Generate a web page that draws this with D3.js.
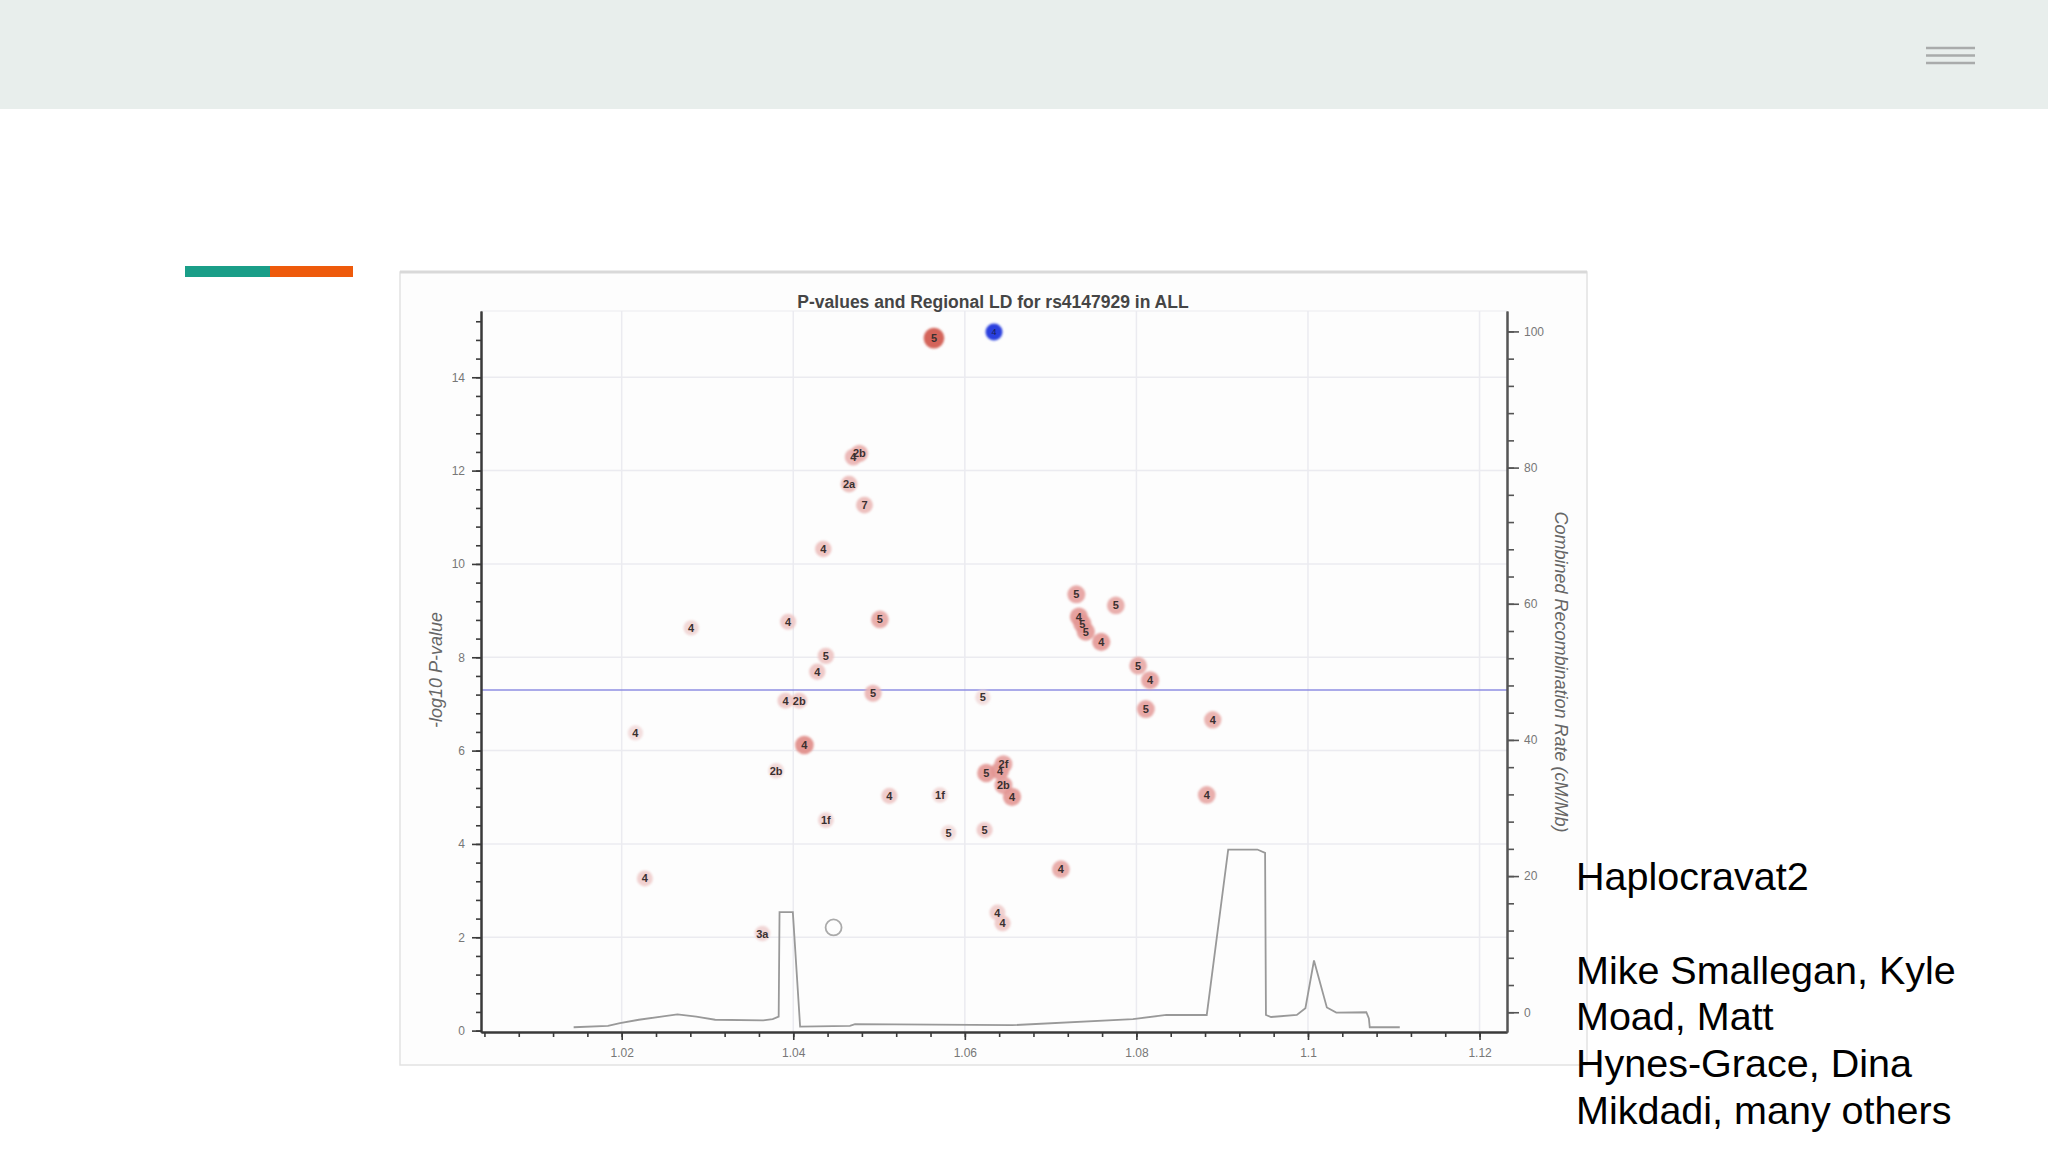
<!DOCTYPE html>
<html><head><meta charset="utf-8">
<script src="https://cdn.jsdelivr.net/npm/d3@7"></script>
<style>html,body{margin:0;padding:0;background:#fff;overflow:hidden}</style>
</head><body>
<svg id="c" width="2048" height="1152"></svg>
<script>
// ---------------- data ----------------
const chartTitle = "P-values and Regional LD for rs4147929 in ALL";
const yAxisTitle = "-log10 P-value";
const rAxisTitle = "Combined Recombination Rate (cM/Mb)";

// SNPs: position (Mb), -log10 P, LD r^2 with index SNP, label
const snpPos   = [1.0564,1.0470,1.0477,1.0465,1.0483,1.0435,1.0281,1.0394,1.0501,1.0438,1.0428,1.0493,1.0391,1.0407,1.0621,1.0216,1.0413,1.0380,1.0512,1.0571,1.0438,1.0581,1.0623,1.0625,1.0641,1.0645,1.0645,1.0655,1.0730,1.0776,1.0733,1.0737,1.0741,1.0759,1.0802,1.0816,1.0811,1.0889,1.0882,1.0712,1.0227,1.0364,1.0638,1.0644];
const snpLogP  = [14.84,12.29,12.37,11.71,11.26,10.32,8.63,8.76,8.81,8.03,7.69,7.23,7.07,7.07,7.14,6.38,6.12,5.57,5.03,5.05,4.51,4.24,4.30,5.52,5.57,5.71,5.26,5.01,9.35,9.11,8.87,8.72,8.55,8.33,7.82,7.51,6.89,6.66,5.05,3.46,3.26,2.08,2.53,2.30];
const snpLD    = [0.95,0.35,0.40,0.30,0.30,0.25,0.08,0.18,0.45,0.22,0.22,0.35,0.18,0.18,0.04,0.04,0.62,0.08,0.20,0.08,0.10,0.05,0.18,0.55,0.55,0.50,0.50,0.55,0.50,0.45,0.55,0.55,0.55,0.55,0.45,0.50,0.50,0.40,0.45,0.45,0.15,0.10,0.15,0.20];
const snpLabel = ["5","4","2b","2a","7","4","4","4","5","5","4","5","4","2b","5","4","4","2b","4","1f","1f","5","5","5","4","2f","2b","4","5","5","4","5","5","4","5","4","5","4","4","4","4","3a","4","4"];

// index SNP
const indexPos = [1.0634];
const indexLogP = [14.97];
const indexLabel = ["4"];

// SNP without LD information
const noLDPos = [1.0447];
const noLDLogP = [2.21];

// recombination rate track
const recombPos  = [1.0144,1.0184,1.0198,1.0220,1.0265,1.0287,1.0309,1.0365,1.0376,1.0383,1.0384,1.03995,1.0408,1.0466,1.0472,1.0655,1.0796,1.0835,1.0882,1.0907,1.0941,1.0950,1.0951,1.0957,1.0987,1.0997,1.1007,1.1022,1.1033,1.1068,1.1071,1.1072,1.1107];
const recombRate = [-2.2,-2.0,-1.6,-1.1,-0.3,-0.65,-1.1,-1.2,-1.0,-0.65,14.7,14.7,-2.1,-2.0,-1.75,-1.9,-1.0,-0.4,-0.4,23.9,23.9,23.4,-0.4,-0.7,-0.4,0.6,7.6,0.7,-0.05,0.0,-0.9,-2.2,-2.2];

const xTicks = [1.02,1.04,1.06,1.08,1.1,1.12];
const yTicks = [0,2,4,6,8,10,12,14];
const rTicks = [0,20,40,60,80,100];
const sigThreshold = 7.3;

const sideTitle = "Haplocravat2";
const sideLines = ["Mike Smallegan, Kyle","Moad, Matt","Hynes-Grace, Dina","Mikdadi, many others"];

// ---------------- drawing ----------------
const svg = d3.select("#c");
const FONT = "'Liberation Sans', Arial, Helvetica, sans-serif";

// header band
svg.append("rect").attr("x",0).attr("y",0).attr("width",2048).attr("height",109).attr("fill","#e8eeec");
[48,55.5,63].forEach(yy=>{
  svg.append("line").attr("x1",1926).attr("x2",1975).attr("y1",yy).attr("y2",yy)
    .attr("stroke","#a9abab").attr("stroke-width",2.4);
});

// accent bar
svg.append("rect").attr("x",185).attr("y",266).attr("width",85).attr("height",11).attr("fill","#1a9e88");
svg.append("rect").attr("x",270).attr("y",266).attr("width",83).attr("height",11).attr("fill","#ee5a0b");

// screenshot frame
svg.append("rect").attr("x",400).attr("y",272).attr("width",1187).attr("height",793)
  .attr("fill","#fdfdfd").attr("stroke","#e2e2e2").attr("stroke-width",1.5);
svg.append("line").attr("x1",400).attr("x2",1587).attr("y1",272).attr("y2",272)
  .attr("stroke","#d9d9d9").attr("stroke-width",3);

// scales
const x = d3.scaleLinear().domain([1.0036,1.1232]).range([481,1507]);
const y = d3.scaleLinear().domain([-0.03,15.42]).range([1032,311]);
const yR = d3.scaleLinear().domain([-2.9,103]).range([1032,311]);
const ld = d3.scaleLinear().domain([0,0.5,1]).range(["#f3dfdf","#e6a09d","#cc4a3e"]);

const plot = svg.append("g");

// grid
plot.append("g").selectAll("line").data(yTicks.filter(d=>d>0)).join("line")
  .attr("x1",481).attr("x2",1507).attr("y1",d=>y(d)).attr("y2",d=>y(d))
  .attr("stroke","#ebebf0").attr("stroke-width",1.5);
plot.append("line").attr("x1",481).attr("x2",1507).attr("y1",311).attr("y2",311)
  .attr("stroke","#f0f0f3").attr("stroke-width",1.5);
plot.append("g").selectAll("line").data(xTicks).join("line")
  .attr("x1",d=>x(d)).attr("x2",d=>x(d)).attr("y1",311).attr("y2",1032)
  .attr("stroke","#ebebf0").attr("stroke-width",1.5);

// significance line
plot.append("line").attr("x1",481).attr("x2",1507).attr("y1",y(sigThreshold)).attr("y2",y(sigThreshold))
  .attr("stroke","#8e8ee2").attr("stroke-width",1.6);

// recombination line
const recomb = recombPos.map((p,i)=>[p,recombRate[i]]);
plot.append("path").datum(recomb)
  .attr("d",d3.line().x(d=>x(d[0])).y(d=>yR(d[1])))
  .attr("fill","none").attr("stroke","#999").attr("stroke-width",1.8);

// axes
function styleAxis(g, col){
  g.selectAll("path").attr("stroke",col).attr("stroke-width",2);
  g.selectAll("line").attr("stroke",col).attr("stroke-width",1.6);
  g.selectAll("text").attr("fill","#777").attr("font-family",FONT).attr("font-size",12);
}
const minorY = d3.range(0,15.3,0.4).map(v=>+v.toFixed(1));
const minorX = d3.range(1.004,1.1205,0.004).map(v=>+v.toFixed(3));
const minorR = d3.range(0,101,4);

const gL = svg.append("g").attr("transform","translate(481,0)")
  .call(d3.axisLeft(y).tickValues(yTicks).tickSize(9).tickPadding(7).tickSizeOuter(0).tickFormat(String));
styleAxis(gL,"#3a3a3a");
const gLm = svg.append("g").attr("transform","translate(481,0)")
  .call(d3.axisLeft(y).tickValues(minorY).tickSize(5).tickSizeOuter(0).tickFormat(""));
styleAxis(gLm,"#3a3a3a");

const gB = svg.append("g").attr("transform","translate(0,1032)")
  .call(d3.axisBottom(x).tickValues(xTicks).tickSize(8).tickPadding(8).tickSizeOuter(0).tickFormat(String));
styleAxis(gB,"#3a3a3a");
const gBm = svg.append("g").attr("transform","translate(0,1032)")
  .call(d3.axisBottom(x).tickValues(minorX).tickSize(5).tickSizeOuter(0).tickFormat(""));
styleAxis(gBm,"#3a3a3a");

const gR = svg.append("g").attr("transform","translate(1507,0)")
  .call(d3.axisRight(yR).tickValues(rTicks).tickSize(12).tickPadding(5).tickSizeOuter(0).tickFormat(String));
styleAxis(gR,"#555");
const gRm = svg.append("g").attr("transform","translate(1507,0)")
  .call(d3.axisRight(yR).tickValues(minorR).tickSize(7).tickSizeOuter(0).tickFormat(""));
styleAxis(gRm,"#555");

// axis titles
svg.append("text").attr("transform","translate(436,670) rotate(-90)")
  .attr("text-anchor","middle").attr("dominant-baseline","central")
  .attr("font-family",FONT).attr("font-style","italic").attr("font-size",18).attr("fill","#666")
  .text(yAxisTitle);
svg.append("text").attr("transform","translate(1561,672) rotate(90)")
  .attr("text-anchor","middle").attr("dominant-baseline","central")
  .attr("font-family",FONT).attr("font-style","italic").attr("font-size",18).attr("fill","#666")
  .text(rAxisTitle);

// chart title
svg.append("text").attr("x",993).attr("y",308).attr("text-anchor","middle")
  .attr("font-family",FONT).attr("font-weight","bold").attr("font-size",17.5).attr("fill","#454545")
  .text(chartTitle);

// points
const defs = svg.append("defs");
defs.append("filter").attr("id","soft").append("feGaussianBlur").attr("stdDeviation",0.8);

const snps = snpPos.map((p,i)=>({p, lp:snpLogP[i], ld:snpLD[i], lab:snpLabel[i]}));
const pts = plot.append("g");
pts.append("g").attr("filter","url(#soft)").selectAll("circle").data(snps).join("circle")
  .attr("cx",d=>x(d.p)).attr("cy",d=>y(d.lp)).attr("r",d=>7.5+3*d.ld)
  .attr("fill",d=>ld(d.ld)).attr("fill-opacity",0.9);
pts.append("g").selectAll("text").data(snps).join("text")
  .attr("x",d=>x(d.p)).attr("y",d=>y(d.lp)).attr("text-anchor","middle").attr("dominant-baseline","central")
  .attr("font-family",FONT).attr("font-size",11).attr("font-weight","bold").attr("fill","#3a3030").text(d=>d.lab);

// no-LD SNP (open circle)
pts.append("g").selectAll("circle").data(noLDPos.map((p,i)=>({p,lp:noLDLogP[i]}))).join("circle")
  .attr("cx",d=>x(d.p)).attr("cy",d=>y(d.lp)).attr("r",8)
  .attr("fill","none").attr("stroke","#aaa").attr("stroke-width",1.8);

// index SNP
const idx = indexPos.map((p,i)=>({p,lp:indexLogP[i],lab:indexLabel[i]}));
pts.append("g").attr("filter","url(#soft)").selectAll("circle").data(idx).join("circle")
  .attr("cx",d=>x(d.p)).attr("cy",d=>y(d.lp)).attr("r",8.5).attr("fill","#2a3fde");
pts.append("g").selectAll("text").data(idx).join("text")
  .attr("x",d=>x(d.p)).attr("y",d=>y(d.lp)).attr("text-anchor","middle").attr("dominant-baseline","central")
  .attr("font-family",FONT).attr("font-size",9).attr("fill","#1a1f55").text(d=>d.lab);

// side text
const side = svg.append("g").attr("font-family",FONT).attr("font-size",39.5).attr("fill","#000");
side.append("text").attr("x",1576).attr("y",890).text(sideTitle);
side.selectAll("text.l").data(sideLines).join("text").attr("class","l")
  .attr("x",1576).attr("y",(d,i)=>983.5+i*46.8).text(d=>d);
</script>
</body></html>
